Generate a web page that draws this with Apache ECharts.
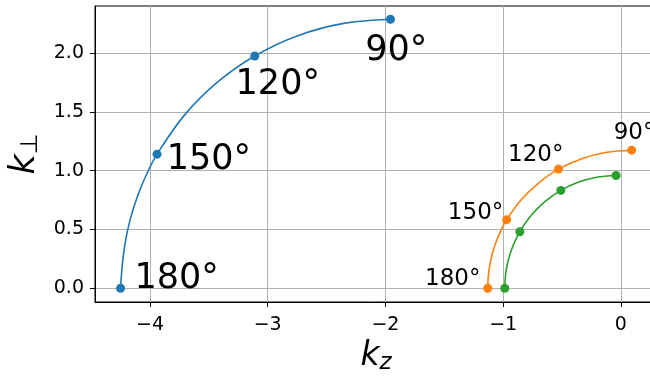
<!DOCTYPE html>
<html>
<head>
<meta charset="utf-8">
<script src="https://cdn.jsdelivr.net/npm/echarts@6/dist/echarts.min.js"></script>
<style>
  html, body { margin: 0; padding: 0; background: #ffffff; }
  #chart { width: 650px; height: 379px; }
</style>
</head>
<body>
<div id="chart"></div>
<script>
// Angle labels attached to the marked points (same order in every marker list)
const angleLabels = ['180°', '150°', '120°', '90°'];

// Marked points [k_z, k_perp] for each branch
const blueMarkers   = [[-4.25, 0.0], [-3.94, 1.14], [-3.11, 1.975], [-1.957, 2.287]];
const orangeMarkers = [[-1.131, 0.0], [-0.97, 0.583], [-0.53, 1.013], [0.092, 1.174]];
const greenMarkers  = [[-0.986, 0.0], [-0.858, 0.48], [-0.51, 0.832], [-0.041, 0.959]];

// Curves traced between the marked points
const blueCurve = [
  [-4.25, 0.0], [-4.235, 0.199], [-4.209, 0.397], [-4.166, 0.592], [-4.106, 0.782],
  [-4.03, 0.967], [-3.94, 1.14], [-3.709, 1.47], [-3.427, 1.752], [-3.11, 1.975],
  [-2.739, 2.149], [-2.354, 2.252], [-1.957, 2.287]
];
const orangeCurve = [
  [-1.131, 0.0], [-1.126, 0.102], [-1.112, 0.204], [-1.089, 0.304], [-1.057, 0.402],
  [-1.016, 0.496], [-0.97, 0.583], [-0.845, 0.755], [-0.694, 0.899], [-0.53, 1.013],
  [-0.326, 1.103], [-0.12, 1.156], [0.092, 1.174]
];
const greenCurve = [
  [-0.986, 0.0], [-0.982, 0.084], [-0.972, 0.166], [-0.954, 0.248], [-0.929, 0.328],
  [-0.897, 0.405], [-0.858, 0.48], [-0.765, 0.616], [-0.648, 0.735], [-0.51, 0.832],
  [-0.364, 0.901], [-0.205, 0.944], [-0.041, 0.959]
];

// Tick values
const xTicks = [-4, -3, -2, -1, 0];
const yTicks = [0, 0.5, 1.0, 1.5, 2.0];

// Axis extents
const xRange = [-4.467, 0.307];
const yRange = [-0.117, 2.40];

const BLUE = '#1f77b4', ORANGE = '#ff7f0e', GREEN = '#2ca02c';
const FONT = 'DejaVu Sans';
const SYMBOL = 9;

// Text placement around each marked point: anchor offset from the point (px) and alignment
const bluePlacement = [
  { dx: 14, dy: -9.8, align: 'left' },
  { dx: 9.7, dy: 5.3, align: 'left' },
  { dx: 23, dy: 29.2, align: 'center' },
  { dx: 5.7, dy: 31.4, align: 'center' }
];
const orangePlacement = [
  { dx: -7.3, dy: -9.4, align: 'right' },
  { dx: -3.4, dy: -6.7, align: 'right' },
  { dx: 5, dy: -14, align: 'right' },
  { dx: -18, dy: -17.1, align: 'left' }
];

function labelled(points, placement, fontSize) {
  return points.map((p, i) => {
    const item = { value: p };
    if (placement) {
      const pl = placement[i];
      item.label = {
        show: true,
        formatter: angleLabels[i],
        position: [SYMBOL / 2 + pl.dx, SYMBOL / 2 + pl.dy],
        align: pl.align,
        verticalAlign: 'middle',
        fontFamily: FONT,
        fontSize: fontSize,
        color: '#000'
      };
    }
    return item;
  });
}

function curveSeries(data, color) {
  return {
    type: 'line', data: data, smooth: 0.35, showSymbol: false, symbol: 'none',
    lineStyle: { color: color, width: 1.6 }, silent: true, animation: false, z: 2
  };
}
function markerSeries(data, color) {
  return {
    type: 'scatter', data: data, symbol: 'circle', symbolSize: SYMBOL,
    itemStyle: { color: color, opacity: 1 }, silent: true, animation: false, z: 3
  };
}

const minus = s => String(s).replace('-', '\u2212');

const chart = echarts.init(document.getElementById('chart'), null, { renderer: 'canvas' });
chart.setOption({
  animation: false,
  backgroundColor: '#ffffff',
  grid: {
    left: 95, top: 6, width: 562, height: 296,
    outerBoundsMode: 'none', containLabel: false,
    show: true, borderColor: '#000', borderWidth: 1, backgroundColor: 'transparent'
  },
  xAxis: {
    type: 'value', min: xRange[0], max: xRange[1],
    axisLine: { show: true, onZero: false, lineStyle: { color: '#000', width: 1 } },
    axisTick: { show: true, length: 5, lineStyle: { color: '#000', width: 1 }, customValues: xTicks },
    axisLabel: {
      customValues: xTicks, margin: 14, color: '#000', fontFamily: FONT, fontSize: 19,
      formatter: v => minus(Math.round(v))
    },
    splitLine: { show: true, lineStyle: { color: '#b0b0b0', width: 1 } },
    name: '{k|k}{sub|z}',
    nameLocation: 'middle', nameGap: 33,
    nameTextStyle: {
      rich: {
        k: { fontFamily: FONT, fontStyle: 'italic', fontSize: 33, color: '#000' },
        sub: { fontFamily: FONT, fontStyle: 'italic', fontSize: 23, color: '#000', padding: [14, 0, 0, 0] }
      }
    }
  },
  yAxis: {
    type: 'value', min: yRange[0], max: yRange[1],
    axisLine: { show: true, onZero: false, lineStyle: { color: '#000', width: 1 } },
    axisTick: { show: true, length: 5, lineStyle: { color: '#000', width: 1 }, customValues: yTicks },
    axisLabel: {
      customValues: yTicks, margin: 11, color: '#000', fontFamily: FONT, fontSize: 19,
      formatter: v => v.toFixed(1)
    },
    splitLine: { show: true, lineStyle: { color: '#b0b0b0', width: 1 } },
    name: '{k|k}{sub|\u22a5}',
    nameLocation: 'middle', nameGap: 40,
    nameTextStyle: {
      rich: {
        k: { fontFamily: FONT, fontStyle: 'italic', fontSize: 35, color: '#000' },
        sub: { fontFamily: FONT, fontSize: 24, color: '#000', padding: [12, 0, 0, 0] }
      }
    }
  },
  series: [
    curveSeries(blueCurve, BLUE),
    curveSeries(orangeCurve, ORANGE),
    curveSeries(greenCurve, GREEN),
    markerSeries(labelled(blueMarkers, bluePlacement, 35), BLUE),
    markerSeries(labelled(orangeMarkers, orangePlacement, 23), ORANGE),
    markerSeries(labelled(greenMarkers, null, 23), GREEN)
  ]
});
</script>
</body>
</html>
